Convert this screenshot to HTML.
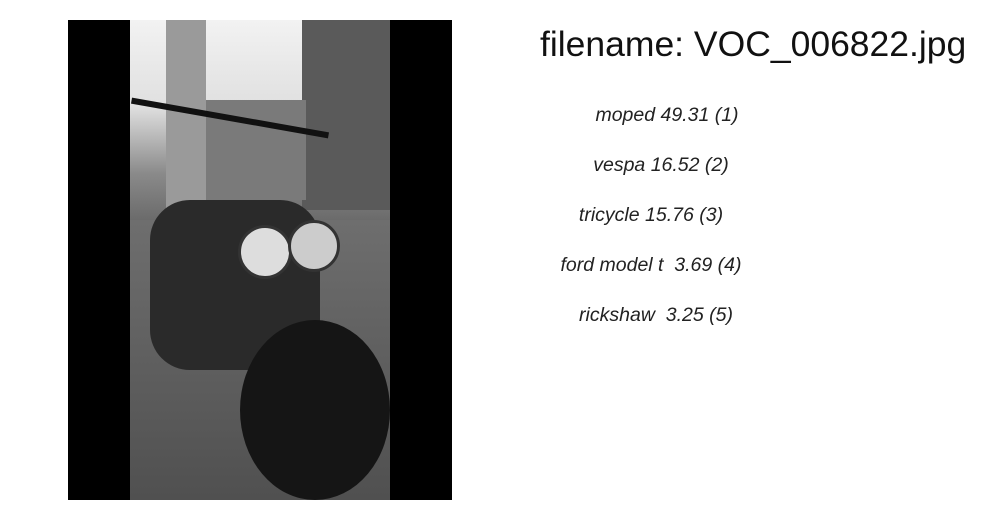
<!DOCTYPE html>
<html><head><meta charset="utf-8"><style>
body{margin:0;width:1000px;height:520px;background:#fff;position:relative;overflow:hidden;font-family:"Liberation Sans",sans-serif}
.ph{position:absolute;left:68px;top:20px;width:384px;height:480px;background:#000}
.img{position:absolute;left:62px;top:0;width:260px;height:480px;overflow:hidden;
background:linear-gradient(180deg,#f2f2f2 0%,#e0e0e0 18%,#8a8a8a 32%,#6a6a6a 42%,#777 55%,#555 70%,#444 100%)}
.t{position:absolute;left:540px;top:24px;font-size:35.5px;color:#111;white-space:nowrap}
.l{position:absolute;font-style:italic;font-size:19.5px;color:#222;white-space:nowrap;transform:translateX(-50%);left:667px}
</style></head><body>
<div class="ph"><div class="img">
<div style="position:absolute;left:172px;top:0;width:88px;height:190px;background:#5a5a5a"></div>
<div style="position:absolute;left:76px;top:80px;width:100px;height:100px;background:#7a7a7a"></div>
<div style="position:absolute;left:36px;top:0;width:40px;height:190px;background:#9a9a9a"></div>
<div style="position:absolute;left:0;top:200px;width:260px;height:280px;background:linear-gradient(180deg,#6e6e6e,#505050)"></div>
<div style="position:absolute;left:20px;top:180px;width:170px;height:170px;background:#2a2a2a;border-radius:40px"></div>
<div style="position:absolute;left:110px;top:300px;width:150px;height:180px;background:#151515;border-radius:50%"></div>
<div style="position:absolute;left:108px;top:205px;width:48px;height:48px;background:#ddd;border-radius:50%;border:3px solid #333"></div>
<div style="position:absolute;left:158px;top:200px;width:46px;height:46px;background:#ccc;border-radius:50%;border:3px solid #333"></div>
<div style="position:absolute;left:0;top:95px;width:200px;height:6px;background:#111;transform:rotate(10deg)"></div>
</div></div>
<div class="t">filename: VOC_006822.jpg</div>
<div class="l" style="top:104px">moped 49.31 (1)</div>
<div class="l" style="top:154px;left:661px">vespa 16.52 (2)</div>
<div class="l" style="top:204px;left:651px">tricycle 15.76 (3)</div>
<div class="l" style="top:254px;left:651px">ford model t &nbsp;3.69 (4)</div>
<div class="l" style="top:304px;left:656px">rickshaw &nbsp;3.25 (5)</div>
</body></html>
